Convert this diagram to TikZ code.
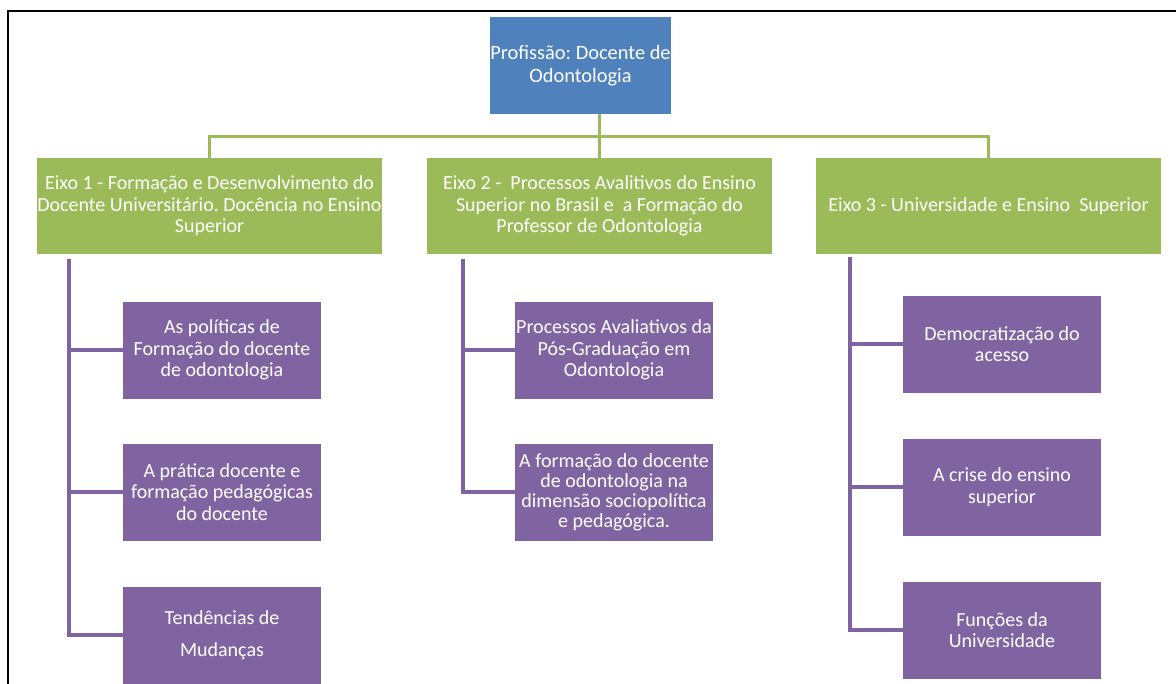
\documentclass[tikz,border=0pt]{standalone}
\usepackage{fontspec}
\setmainfont{Carlito}
\frenchspacing
\definecolor{oblue}{HTML}{4F81BD}
\definecolor{ogreen}{HTML}{9BBB59}
\definecolor{opurple}{HTML}{8064A2}
\begin{document}
\begin{tikzpicture}[x=0.75pt,y=-0.75pt,
  box/.style={rectangle, inner sep=0pt, align=center, text=white,
    font=\fontsize{15pt}{16pt}\selectfont},
  bluebox/.style={box, fill=oblue, minimum width=119.25pt, minimum height=72.75pt,
    font=\fontsize{15.3pt}{17pt}\selectfont},
  greenbox/.style={box, fill=ogreen, minimum width=258.75pt, minimum height=72pt},
  purplebox/.style={box, fill=opurple, minimum width=148.5pt, minimum height=72.75pt},
  gline/.style={draw=ogreen, line width=2.7pt},
  pline/.style={draw=opurple, line width=2.4pt},
  frameline/.style={draw=black, line width=1.9pt}
]
\useasboundingbox (0,0) rectangle (1176,684);
\fill[white] (0,0) rectangle (1176,684);
\draw[frameline] (1176,11) -- (8,11) -- (8,684);

% top
\node[bluebox] (top) at (580.5,65.5) {Profissão: Docente de\\Odontologia};

% axes
\node[greenbox] (g1) at (209.5,206) {Eixo 1 - Formação e Desenvolvimento do\\Docente Universitário. Docência no Ensino\\Superior};
\node[greenbox] (g2) at (599.5,206) {Eixo 2 -\ \ Processos Avalitivos do Ensino\\Superior no Brasil e\ \ a Formação do\\Professor de Odontologia};
\node[greenbox] (g3) at (988.5,206) {Eixo 3 - Universidade e Ensino\ \ Superior};

% topics
\node[purplebox] (p11) at (222,350) {As políticas de\\Formação do docente\\de odontologia};
\node[purplebox] (p12) at (222,492) {A prática docente e\\formação pedagógicas\\do docente};
\node[purplebox] (p13) at (222,635) {Tendências de\\[8pt]Mudanças};
\node[purplebox] (p21) at (614,350) {Processos Avaliativos da\\Pós-Graduação em\\Odontologia};
\node[purplebox, font=\fontsize{15pt}{15pt}\selectfont] (p22) at (614,492) {A formação do docente\\de odontologia na\\dimensão sociopolítica\\e pedagógica.};
\node[purplebox] (p31) at (1002,344) {Democratização do\\acesso};
\node[purplebox] (p32) at (1002,487) {A crise do ensino\\superior};
\node[purplebox] (p33) at (1002,630) {Funções da\\Universidade};

% green connectors
\coordinate (bus) at (0,136.5);
\draw[gline] (g1.north) -- (g1.north |- bus) -- (g3.north |- bus) -- (g3.north);
\draw[gline] (g2.north) -- (g2.north |- top.south);

% purple connectors
\coordinate (c1) at (69,259);
\coordinate (c2) at (463,259);
\coordinate (c3) at (850,257);
\draw[pline] (c1) |- (p13.west);
\draw[pline] (c1 |- p11.west) -- (p11.west);
\draw[pline] (c1 |- p12.west) -- (p12.west);
\draw[pline] (c2) |- (p22.west);
\draw[pline] (c2 |- p21.west) -- (p21.west);
\draw[pline] (c3) |- (p33.west);
\draw[pline] (c3 |- p31.west) -- (p31.west);
\draw[pline] (c3 |- p32.west) -- (p32.west);
\end{tikzpicture}
\end{document}
